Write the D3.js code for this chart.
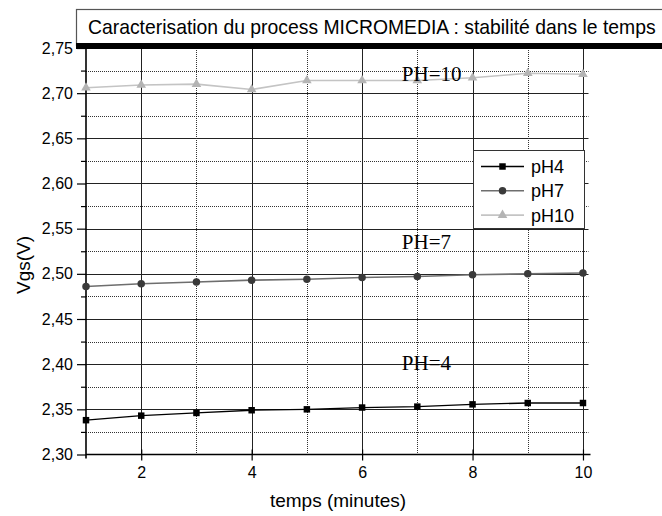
<!DOCTYPE html>
<html>
<head>
<meta charset="utf-8">
<script src="https://cdn.jsdelivr.net/npm/d3@7"></script>
<style>
  html, body { margin: 0; padding: 0; background: #fff; }
  svg { display: block; }
  text { font-family: "Liberation Sans", Arial, sans-serif; fill: #000; }
  .serif { font-family: "Liberation Serif", "Times New Roman", serif; }
</style>
</head>
<body>
<svg id="chart" width="662" height="516"></svg>
<script>
// Measurements over time (minutes) for three pH buffers
const minutes = [1, 2, 3, 4, 5, 6, 7, 8, 9, 10];
const pH4  = [2.338, 2.343, 2.346, 2.349, 2.350, 2.352, 2.353, 2.3555, 2.357, 2.357];
const pH7  = [2.486, 2.489, 2.491, 2.493, 2.494, 2.496, 2.497, 2.499, 2.500, 2.501];
const pH10 = [2.706, 2.709, 2.710, 2.704, 2.714, 2.714, 2.714, 2.717, 2.722, 2.721];

const seriesNames = ["pH4", "pH7", "pH10"];
const xMajorTicks = [2, 4, 6, 8, 10];
const xMinorTicks = [3, 5, 7, 9];
const yMajorTicks = [2.30, 2.35, 2.40, 2.45, 2.50, 2.55, 2.60, 2.65, 2.70, 2.75];
const yMinorTicks = [2.325, 2.375, 2.425, 2.475, 2.525, 2.575, 2.625, 2.675, 2.725];

const titleText = "Caracterisation du process MICROMEDIA : stabilité dans le temps";
const xTitle = "temps (minutes)";
const yTitle = "Vgs(V)";

const annotations = [
  { text: "PH=10", x: 6.72, y: 2.7132 },
  { text: "PH=7",  x: 6.72, y: 2.5275 },
  { text: "PH=4",  x: 6.72, y: 2.394 }
];

const svg = d3.select("#chart");

const x = d3.scaleLinear().domain([1, 10.1]).range([86, 588.5]);
const y = d3.scaleLinear().domain([2.30, 2.75]).range([454.5, 48]);
const fmt = v => d3.format(".2f")(v).replace(".", ",");

const styles = {
  pH4:  { line: "#000",    width: 1.3, marker: "#000",    symbol: d3.symbolSquare,   size: 42 },
  pH7:  { line: "#6e6e6e", width: 1.6, marker: "#3a3a3a", symbol: d3.symbolCircle,   size: 44 },
  pH10: { line: "#c4c4c4", width: 1.6, marker: "#b4b4b4", symbol: d3.symbolTriangle, size: 40 }
};
const seriesData = { pH4, pH7, pH10 };

// Grid
const grid = svg.append("g");
const [x0, x1] = x.range();
const [yb, yt] = y.range();
grid.selectAll(".hmaj").data(yMajorTicks.slice(1)).join("line")
  .attr("x1", x0).attr("x2", x1)
  .attr("y1", d => Math.round(y(d)) + 0.5).attr("y2", d => Math.round(y(d)) + 0.5)
  .attr("stroke", "#222").attr("stroke-width", 1);
grid.selectAll(".hmin").data(yMinorTicks).join("line")
  .attr("x1", x0).attr("x2", x1)
  .attr("y1", d => Math.round(y(d)) + 0.5).attr("y2", d => Math.round(y(d)) + 0.5)
  .attr("stroke", "#333").attr("stroke-width", 1).attr("stroke-dasharray", "1,1");
grid.selectAll(".vmaj").data(xMajorTicks).join("line")
  .attr("x1", d => Math.round(x(d)) + 0.5).attr("x2", d => Math.round(x(d)) + 0.5)
  .attr("y1", yt).attr("y2", yb)
  .attr("stroke", "#222").attr("stroke-width", 1);
grid.selectAll(".vmin").data(xMinorTicks).join("line")
  .attr("x1", d => Math.round(x(d)) + 0.5).attr("x2", d => Math.round(x(d)) + 0.5)
  .attr("y1", yt).attr("y2", yb)
  .attr("stroke", "#333").attr("stroke-width", 1).attr("stroke-dasharray", "1,1");

// Axes
const yAxis = d3.axisLeft(y).tickValues(yMajorTicks).tickFormat(fmt).tickSize(9).tickPadding(4);
const gy = svg.append("g").attr("transform", `translate(${x0},0)`).call(yAxis);
gy.select(".domain").remove();
gy.selectAll("text").style("font-size", "16px").style("font-family", "'Liberation Sans', Arial, sans-serif");
gy.selectAll("line").attr("stroke", "#000").attr("stroke-width", 1.2);
const yAxisMinor = d3.axisLeft(y).tickValues(yMinorTicks).tickFormat("").tickSize(5);
const gym = svg.append("g").attr("transform", `translate(${x0},0)`).call(yAxisMinor);
gym.select(".domain").remove();
gym.selectAll("line").attr("stroke", "#000").attr("stroke-width", 1.2);

const xAxis = d3.axisBottom(x).tickValues(xMajorTicks).tickFormat(d3.format("d")).tickSize(6).tickPadding(6);
const gx = svg.append("g").attr("transform", `translate(0,${yb})`).call(xAxis);
gx.select(".domain").remove();
gx.selectAll("text").style("font-size", "16px").style("font-family", "'Liberation Sans', Arial, sans-serif");
gx.selectAll("line").attr("stroke", "#000").attr("stroke-width", 1.2).attr("y1", -5);

// Axis lines
svg.append("line").attr("x1", x0).attr("x2", x1 + 2).attr("y1", yb).attr("y2", yb)
  .attr("stroke", "#000").attr("stroke-width", 1.6);
svg.append("line").attr("x1", x0).attr("x2", x0).attr("y1", yt).attr("y2", yb + 4)
  .attr("stroke", "#000").attr("stroke-width", 1.6);

// Series lines and markers
seriesNames.forEach(name => {
  const st = styles[name];
  const vals = seriesData[name];
  const pts = minutes.map((m, i) => [m, vals[i]]);
  svg.append("path").datum(pts)
    .attr("fill", "none").attr("stroke", st.line).attr("stroke-width", st.width)
    .attr("d", d3.line().x(d => x(d[0])).y(d => y(d[1])));
  svg.append("g").selectAll("path").data(pts).join("path")
    .attr("transform", d => `translate(${x(d[0])},${y(d[1])})`)
    .attr("d", d3.symbol().type(st.symbol).size(st.size))
    .attr("fill", st.marker);
});

// Annotations
svg.append("g").selectAll("text").data(annotations).join("text")
  .attr("class", "serif")
  .attr("x", d => x(d.x)).attr("y", d => y(d.y))
  .style("font-size", "21px")
  .text(d => d.text);

// Legend
const lg = svg.append("g").attr("transform", "translate(473,150)");
lg.append("rect").attr("x", 0.5).attr("y", 0.5).attr("width", 111).attr("height", 78)
  .attr("fill", "#fff").attr("stroke", "#333").attr("stroke-width", 1);
seriesNames.forEach((name, i) => {
  const st = styles[name];
  const cy = 16.5 + i * 24.3;
  lg.append("line").attr("x1", 8).attr("x2", 51).attr("y1", cy).attr("y2", cy)
    .attr("stroke", st.line).attr("stroke-width", st.width);
  lg.append("path").attr("transform", `translate(29.5,${cy})`)
    .attr("d", d3.symbol().type(st.symbol).size(st.size)).attr("fill", st.marker);
  lg.append("text").attr("x", 58).attr("y", cy).attr("dy", "0.36em")
    .style("font-size", "18px").text(name);
});

// Title box
svg.append("rect").attr("x", 76.5).attr("y", 9.5).attr("width", 600).attr("height", 36)
  .attr("fill", "#fff").attr("stroke", "#555").attr("stroke-width", 1.2);
svg.append("rect").attr("x", 76).attr("y", 43).attr("width", 600).attr("height", 6).attr("fill", "#000");
svg.append("text").attr("x", 88).attr("y", 34).style("font-size", "19.35px").text(titleText);

// Axis titles
svg.append("text").attr("x", 338).attr("y", 507).attr("text-anchor", "middle")
  .style("font-size", "19px").text(xTitle);
svg.append("text").attr("transform", "translate(30,265) rotate(-90)").attr("text-anchor", "middle")
  .style("font-size", "19px").text(yTitle);
</script>
</body>
</html>
